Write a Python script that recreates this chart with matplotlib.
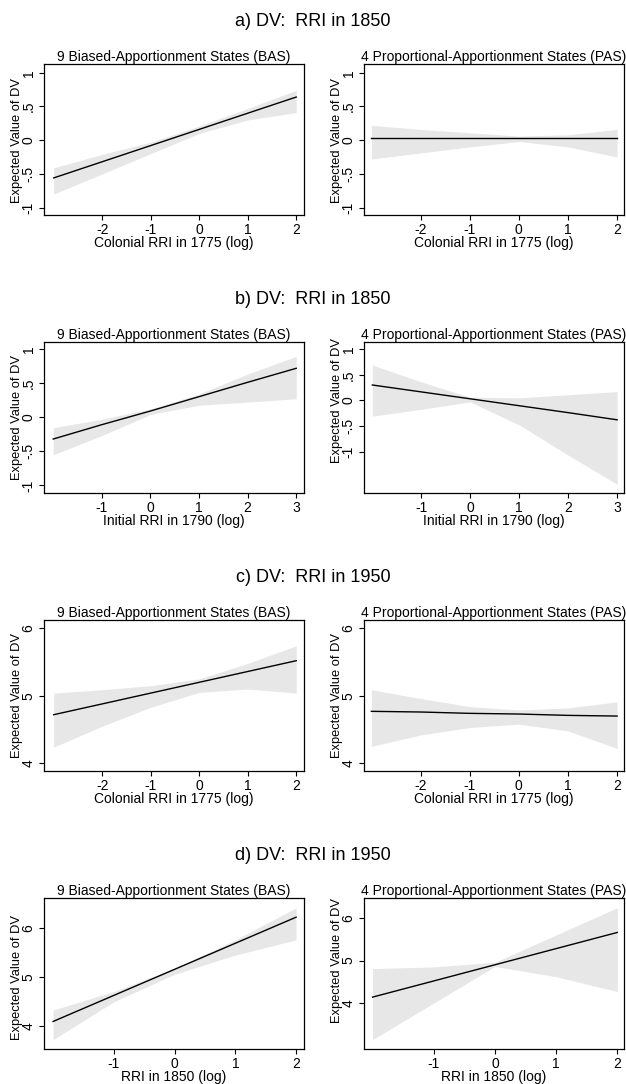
import matplotlib
matplotlib.use("Agg")
import matplotlib.pyplot as plt
import numpy as np

plt.rcParams['font.family'] = ['Liberation Sans', 'DejaVu Sans']

# ---------------- data ----------------
row_titles = ["a) DV:  RRI in 1850", "b) DV:  RRI in 1850",
              "c) DV:  RRI in 1950", "d) DV:  RRI in 1950"]
col_titles = ["9 Biased-Apportionment States (BAS)",
              "4 Proportional-Apportionment States (PAS)"]
x_labels = ["Colonial RRI in 1775 (log)", "Initial RRI in 1790 (log)",
            "Colonial RRI in 1775 (log)", "RRI in 1850 (log)"]
y_label = "Expected Value of DV"

# row a
a_x = [-3, -2, -1, 0, 1, 2]
a_bas_mean = [-0.56, -0.32, -0.08, 0.16, 0.40, 0.64]
a_bas_hi = [-0.41, -0.21, -0.03, 0.21, 0.47, 0.74]
a_bas_lo = [-0.80, -0.50, -0.20, 0.10, 0.30, 0.41]
a_pas_mean = [0.03, 0.03, 0.03, 0.03, 0.03, 0.03]
a_pas_hi = [0.22, 0.16, 0.11, 0.06, 0.08, 0.16]
a_pas_lo = [-0.28, -0.19, -0.10, -0.02, -0.10, -0.25]

# row b
b_x = [-2, -1, 0, 1, 2, 3]
b_bas_mean = [-0.32, -0.11, 0.09, 0.30, 0.51, 0.715]
b_bas_hi = [-0.155, -0.03, 0.12, 0.34, 0.63, 0.89]
b_bas_lo = [-0.55, -0.27, 0.04, 0.175, 0.22, 0.27]
b_pas_mean = [0.30, 0.165, 0.03, -0.105, -0.24, -0.38]
b_pas_hi = [0.69, 0.36, 0.06, 0.05, 0.11, 0.17]
b_pas_lo = [-0.31, -0.175, -0.03, -0.48, -1.07, -1.64]

# row c
c_x = [-3, -2, -1, 0, 1, 2]
c_bas_mean = [4.72, 4.88, 5.04, 5.20, 5.36, 5.52]
c_bas_hi = [5.04, 5.09, 5.15, 5.25, 5.48, 5.74]
c_bas_lo = [4.24, 4.55, 4.83, 5.05, 5.10, 5.04]
c_pas_mean = [4.77, 4.76, 4.74, 4.73, 4.71, 4.70]
c_pas_hi = [5.09, 4.96, 4.84, 4.79, 4.82, 4.91]
c_pas_lo = [4.25, 4.42, 4.53, 4.58, 4.48, 4.22]

# row d
d_x = [-2, -1, 0, 1, 2]
d_bas_mean = [4.10, 4.63, 5.16, 5.69, 6.22]
d_bas_hi = [4.33, 4.71, 5.18, 5.76, 6.41]
d_bas_lo = [3.73, 4.50, 5.06, 5.45, 5.76]
d_pas_mean = [4.14, 4.52, 4.90, 5.28, 5.66]
d_pas_hi = [4.81, 4.85, 4.96, 5.60, 6.24]
d_pas_lo = [3.14, 4.00, 4.86, 4.62, 4.27]

# ticks
a_yticks = [-1, -0.5, 0, 0.5, 1]
a_yticklabels = ["-1", "-.5", "0", ".5", "1"]
c_yticks = [4, 5, 6]
c_yticklabels = ["4", "5", "6"]
a_xticks = [-2, -1, 0, 1, 2]
b_xticks = [-1, 0, 1, 2, 3]
d_xticks = [-1, 0, 1, 2]

panels = [
    [(a_x, a_bas_mean, a_bas_hi, a_bas_lo), (a_x, a_pas_mean, a_pas_hi, a_pas_lo)],
    [(b_x, b_bas_mean, b_bas_hi, b_bas_lo), (b_x, b_pas_mean, b_pas_hi, b_pas_lo)],
    [(c_x, c_bas_mean, c_bas_hi, c_bas_lo), (c_x, c_pas_mean, c_pas_hi, c_pas_lo)],
    [(d_x, d_bas_mean, d_bas_hi, d_bas_lo), (d_x, d_pas_mean, d_pas_hi, d_pas_lo)],
]
row_xticks = [a_xticks, b_xticks, a_xticks, d_xticks]
row_yticks = [(a_yticks, a_yticklabels)] * 2 + [(c_yticks, c_yticklabels)] * 2
xlims = [[(-3.2, 2.16), (-3.15, 2.14)],
         [(-2.19, 3.16), (-2.17, 3.14)],
         [(-3.2, 2.16), (-3.15, 2.14)],
         [(-2.15, 2.13), (-2.14, 2.11)]]
ylims = [[(-1.11, 1.13), (-1.11, 1.13)],
         [(-1.11, 1.10), (-1.81, 1.14)],
         [(3.886, 6.123), (3.886, 6.123)],
         [(3.54, 6.61), (2.92, 6.47)]]

# ---------------- layout ----------------
W, H = 626, 1084
fig = plt.figure(figsize=(W / 100, H / 100), dpi=100)
fig.patch.set_facecolor('white')

col_left = [44, 364]
ax_w = 260
row_top = [64, 342, 620, 898]
ax_h = 151
row_title_y = [21, 299, 577, 855]

band_color = '#e7e7e7'

for r in range(4):
    fig.text(0.5, 1 - row_title_y[r] / H, row_titles[r], ha='center', va='center',
             fontsize=13)
    for c in range(2):
        x, m, hi, lo = panels[r][c]
        ax = fig.add_axes([col_left[c] / W, 1 - (row_top[r] + ax_h) / H,
                           ax_w / W, ax_h / H])
        ax.fill_between(x, lo, hi, color=band_color, lw=0, zorder=1)
        ax.plot(x, m, color='black', lw=1.0, zorder=2)
        ax.set_xlim(*xlims[r][c])
        ax.set_ylim(*ylims[r][c])
        ax.set_xticks(row_xticks[r])
        ax.set_xticklabels([f"{t:g}" for t in row_xticks[r]])
        yt, ytl = row_yticks[r]
        ax.set_yticks(yt)
        ax.set_yticklabels(ytl)
        ax.tick_params(direction='out', length=3.6, width=0.8, labelsize=10,
                       pad=2.5, color='black')
        for lab in ax.get_yticklabels():
            lab.set_rotation(90)
            lab.set_va('center')
            lab.set_ha('right')
        for sp in ax.spines.values():
            sp.set_linewidth(0.9)
            sp.set_color('black')
        ax.set_title(col_titles[c], fontsize=10, pad=2)
        ax.set_xlabel(x_labels[r], fontsize=10)
        ax.xaxis.set_label_coords(0.5, -28.5 / ax_h)
        ax.xaxis.label.set_va('center')
        ax.set_ylabel(y_label, fontsize=9.3)
        y0, y1 = ylims[r][c]
        yc = ((min(yt) + max(yt)) / 2 - y0) / (y1 - y0)
        ax.yaxis.set_label_coords(-27 / ax_w, yc)
        ax.yaxis.label.set_va('center')

fig.savefig("out.png", dpi=100, facecolor='white')
